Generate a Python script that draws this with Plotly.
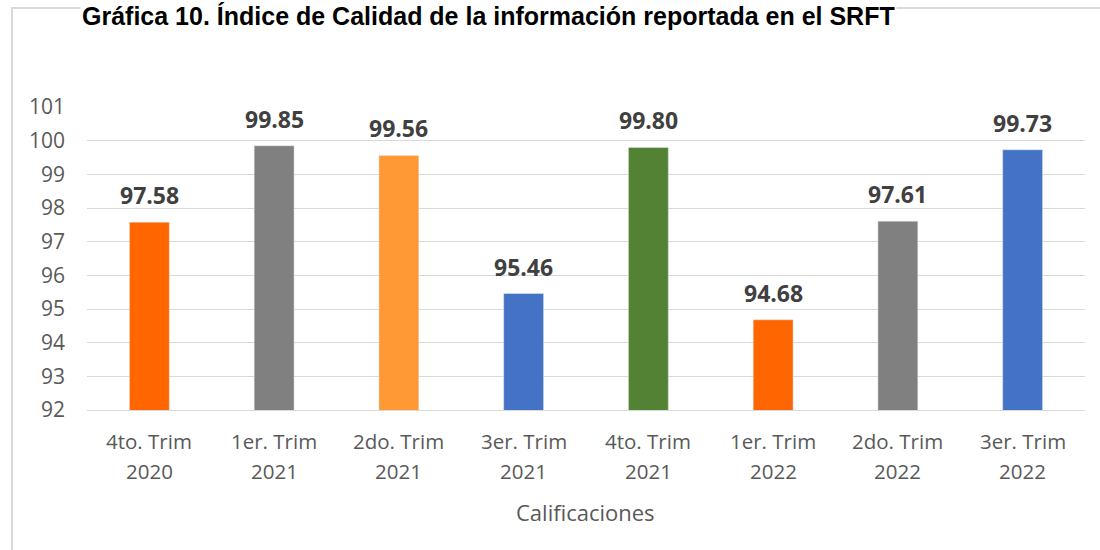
import plotly.graph_objects as go

quarters = ["4to. Trim", "1er. Trim", "2do. Trim", "3er. Trim", "4to. Trim", "1er. Trim", "2do. Trim", "3er. Trim"]
years = ["2020", "2021", "2021", "2021", "2021", "2022", "2022", "2022"]
categories = [f"{q} {y}" for q, y in zip(quarters, years)]
values = [97.58, 99.85, 99.56, 95.46, 99.80, 94.68, 97.61, 99.73]
colors = ["#FF6600", "#808080", "#FF9933", "#4472C4", "#548235", "#FF6600", "#808080", "#4472C4"]
title = "Gráfica 10. Índice de Calidad de la información reportada en el SRFT"
x_title = "Calificaciones"

L, R, T, B = 87, 15, 107, 140
W, H = 1100, 550
pw, ph = W - L - R, H - T - B

def px(x):
    return (x - L) / pw

def py(y):
    return (H - B - y) / ph

fig = go.Figure(go.Bar(
    x=categories, y=values, marker_color=colors, width=0.32, cliponaxis=False,
))

grey = "#595959"
annotations = [dict(text=title, xref="paper", yref="paper", x=px(488), y=py(0),
                    xanchor="center", yanchor="top", showarrow=False, bgcolor="white",
                    font=dict(family="Liberation Sans", size=25, color="black", weight="bold"))]
for c, v in zip(categories, values):
    annotations.append(dict(text=f"{v:.2f}", x=c, y=v, xref="x", yref="y", yanchor="bottom",
                            yshift=9, showarrow=False,
                            font=dict(family="Open Sans", size=23, color="#404040", weight="bold")))
for c, q, y in zip(categories, quarters, years):
    annotations.append(dict(text=q, x=c, xref="x", yref="paper", y=py(441), yanchor="middle",
                            showarrow=False, font=dict(family="Open Sans", size=20.5, color=grey)))
    annotations.append(dict(text=y, x=c, xref="x", yref="paper", y=py(471), yanchor="middle",
                            showarrow=False, font=dict(family="Open Sans", size=20.5, color=grey)))
annotations.append(dict(text=x_title, xref="paper", yref="paper", x=px(585), y=py(512), yanchor="middle",
                        showarrow=False, font=dict(family="Open Sans", size=22, color=grey)))

fig.update_layout(
    width=W, height=H, margin=dict(l=L, r=R, t=T, b=B),
    plot_bgcolor="white", paper_bgcolor="white", showlegend=False,
    font=dict(family="Open Sans", color=grey),
    xaxis=dict(showticklabels=False, showline=True, linecolor="#D9D9D9", ticks=""),
    yaxis=dict(range=[92, 101], dtick=1, tickfont=dict(size=21, color=grey),
               gridcolor="#D9D9D9", gridwidth=1, zeroline=False, ticks="", ticklabelstandoff=21),
    shapes=[dict(type="rect", xref="paper", yref="paper",
                 x0=px(12), x1=px(1110), y0=py(560), y1=py(8),
                 line=dict(color="#D9D9D9", width=2), fillcolor="rgba(0,0,0,0)", layer="below")],
    annotations=annotations,
)

fig.write_html("out.html", config={"displayModeBar": False},
               post_script="document.body.style.margin='0px';")
